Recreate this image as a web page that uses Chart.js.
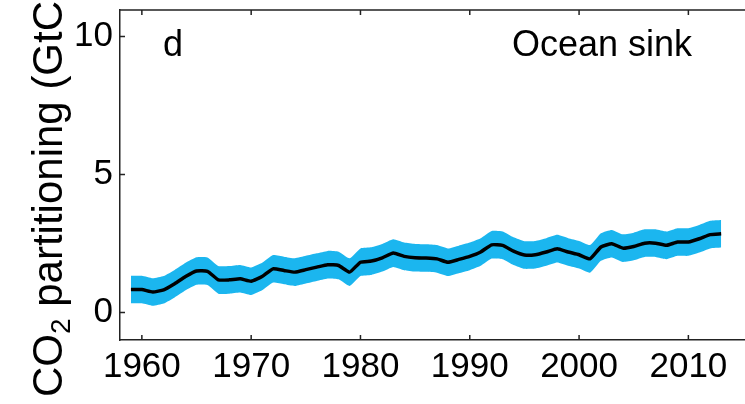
<!DOCTYPE html>
<html>
<head>
<meta charset="utf-8">
<script src="https://cdn.jsdelivr.net/npm/chart.js@4/dist/chart.umd.min.js"></script>
<style>
  html, body { margin: 0; padding: 0; background: #fff; overflow: hidden; }
</style>
</head>
<body>
<canvas id="grafico" width="745" height="404"></canvas>
<script>
const years = [1959, 1960, 1961, 1962, 1963, 1964, 1965, 1966, 1967, 1968,
    1969, 1970, 1971, 1972, 1973, 1974, 1975, 1976, 1977, 1978,
    1979, 1980, 1981, 1982, 1983, 1984, 1985, 1986, 1987, 1988,
    1989, 1990, 1991, 1992, 1993, 1994, 1995, 1996, 1997, 1998,
    1999, 2000, 2001, 2002, 2003, 2004, 2005, 2006, 2007, 2008,
    2009, 2010, 2011, 2012, 2013];

// ocean sink (GtC/yr)
const oceanSink = [0.83, 0.83, 0.74, 0.82, 1.04, 1.30, 1.50, 1.49, 1.18, 1.18,
    1.22, 1.13, 1.30, 1.58, 1.52, 1.46, 1.55, 1.64, 1.73, 1.70,
    1.46, 1.82, 1.86, 1.98, 2.15, 2.03, 1.98, 1.97, 1.94, 1.82,
    1.92, 2.03, 2.19, 2.45, 2.43, 2.22, 2.08, 2.09, 2.19, 2.31,
    2.19, 2.09, 1.94, 2.37, 2.49, 2.33, 2.39, 2.51, 2.51, 2.43,
    2.55, 2.55, 2.67, 2.82, 2.85];

const oceanHigh = [1.33, 1.33, 1.24, 1.32, 1.54, 1.80, 2.00, 1.99, 1.68, 1.68,
    1.72, 1.63, 1.80, 2.08, 2.02, 1.96, 2.05, 2.14, 2.23, 2.20,
    1.96, 2.32, 2.36, 2.48, 2.65, 2.53, 2.48, 2.47, 2.44, 2.32,
    2.42, 2.53, 2.69, 2.95, 2.93, 2.72, 2.58, 2.59, 2.69, 2.81,
    2.69, 2.59, 2.44, 2.87, 2.99, 2.83, 2.89, 3.01, 3.01, 2.93,
    3.05, 3.05, 3.17, 3.32, 3.35];

const oceanLow = [0.33, 0.33, 0.24, 0.32, 0.54, 0.80, 1.00, 0.99, 0.68, 0.68,
    0.72, 0.63, 0.80, 1.08, 1.02, 0.96, 1.05, 1.14, 1.23, 1.20,
    0.96, 1.32, 1.36, 1.48, 1.65, 1.53, 1.48, 1.47, 1.44, 1.32,
    1.42, 1.53, 1.69, 1.95, 1.93, 1.72, 1.58, 1.59, 1.69, 1.81,
    1.69, 1.59, 1.44, 1.87, 1.99, 1.83, 1.89, 2.01, 2.01, 1.93,
    2.05, 2.05, 2.17, 2.32, 2.35];

const xTicks = [1960, 1970, 1980, 1990, 2000, 2010];
const yTicks = [0, 5, 10];

const fuente = "'Liberation Sans', Arial, Helvetica, sans-serif";
const azul = "#1bb6ef";
const ejeColor = "#222";

const pares = (vals) => years.map((yr, i) => ({ x: yr, y: vals[i] }));

// ticks hacia adentro, borde superior, textos
const decoracion = {
    id: "decoracion",
    afterDraw(chart) {
        const { ctx, chartArea: a, scales } = chart;
        ctx.save();
        ctx.strokeStyle = ejeColor;
        ctx.lineWidth = 1.5;
        ctx.beginPath();
        ctx.moveTo(a.left, a.top);
        ctx.lineTo(a.right, a.top);
        xTicks.forEach(t => {
            const px = scales.x.getPixelForValue(t);
            ctx.moveTo(px, a.bottom);
            ctx.lineTo(px, a.bottom - 5);
            ctx.moveTo(px, a.top);
            ctx.lineTo(px, a.top + 5);
        });
        yTicks.forEach(t => {
            const py = scales.y.getPixelForValue(t);
            ctx.moveTo(a.left, py);
            ctx.lineTo(a.left + 5, py);
        });
        ctx.stroke();

        ctx.fillStyle = "#000";
        ctx.textBaseline = "alphabetic";
        ctx.font = "36px " + fuente;
        ctx.textAlign = "left";
        ctx.fillText("d", 163, 56);
        ctx.textAlign = "right";
        ctx.fillText("Ocean sink", 692, 56);

        // titulo eje y
        ctx.translate(62, 397);
        ctx.rotate(-Math.PI / 2);
        ctx.textAlign = "left";
        let x = 0;
        ctx.font = "42px " + fuente;
        ctx.fillText("CO", x, 0);
        x += ctx.measureText("CO").width;
        ctx.font = "28px " + fuente;
        ctx.fillText("2", x, 8);
        x += ctx.measureText("2").width;
        ctx.font = "42px " + fuente;
        ctx.fillText(" partitioning (GtC yr", x, 0);
        ctx.restore();
    }
};

new Chart(document.getElementById("grafico"), {
    type: "line",
    data: {
        datasets: [
            {
                data: pares(oceanSink),
                borderColor: "#000",
                borderWidth: 3.5,
                pointRadius: 0,
                tension: 0.15,
                fill: false,
                order: 0
            },
            {
                data: pares(oceanHigh),
                borderWidth: 0,
                borderColor: azul,
                backgroundColor: azul,
                pointRadius: 0,
                tension: 0.15,
                fill: "+1",
                order: 1
            },
            {
                data: pares(oceanLow),
                borderWidth: 0,
                borderColor: azul,
                pointRadius: 0,
                tension: 0.15,
                fill: false,
                order: 2
            }
        ]
    },
    options: {
        responsive: false,
        animation: false,
        layout: { padding: { top: 10, right: 0, left: 0, bottom: 0 } },
        plugins: {
            legend: { display: false },
            tooltip: { enabled: false }
        },
        scales: {
            x: {
                type: "linear",
                min: 1958,
                max: 2015.18,
                afterBuildTicks: (s) => { s.ticks = xTicks.map(v => ({ value: v })); },
                afterFit: (s) => { s.height = 64; },
                grid: { drawOnChartArea: false, drawTicks: false },
                border: { display: true, color: ejeColor, width: 1.5 },
                ticks: {
                    color: "#000",
                    padding: 6,
                    maxRotation: 0,
                    font: { family: fuente, size: 35 },
                    callback: (v) => String(v)
                }
            },
            y: {
                min: -1,
                max: 10.96,
                afterBuildTicks: (s) => { s.ticks = yTicks.map(v => ({ value: v })); },
                afterFit: (s) => {
                    s.width = 120;
                    s.paddingTop = 0;
                    s.paddingBottom = 0;
                },
                grid: { drawOnChartArea: false, drawTicks: false },
                border: { display: true, color: ejeColor, width: 1.5 },
                ticks: {
                    color: "#000",
                    padding: 7,
                    font: { family: fuente, size: 35, lineHeight: 0.1 }
                }
            }
        }
    },
    plugins: [decoracion]
});
</script>
</body>
</html>
